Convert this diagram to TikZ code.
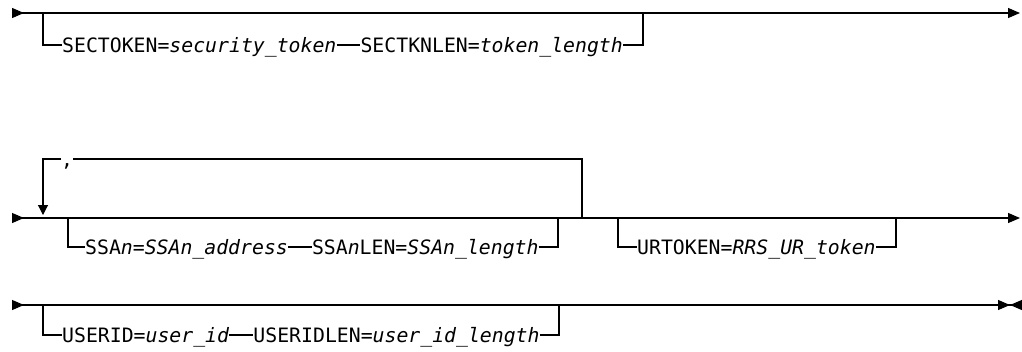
\documentclass[tikz,border=0pt]{standalone}
\usepackage{fontspec}
\setmonofont{DejaVu Sans Mono}
\usetikzlibrary{arrows.meta,positioning}
\tikzset{
  syn/line/.style={line width=1.1pt},
  syn/text/.style={
    font=\ttfamily\fontsize{19.8}{24}\selectfont,
    inner sep=0pt,
    text height=14.4pt,
    text depth=0pt,
    anchor=west
  },
  syn/start/.style={syn/line, {Triangle[reversed,length=12pt,width=10pt]}-{Triangle[length=12pt,width=10pt]}},
  syn/stop/.style={syn/line, {Triangle[reversed,length=12pt,width=10pt]}-{Triangle[length=12pt,width=10pt,sep=0pt]Triangle[reversed,length=12pt,width=10pt]}},
  syn/repeat/.style={syn/line, -{Triangle[length=10pt,width=10pt]}}
}
\begin{document}
\begin{tikzpicture}[x=1pt,y=-1pt]
  \useasboundingbox (0,0) rectangle (1022,351);

  % row 1: optional security token
  \coordinate (r1s) at (12,13);
  \coordinate (r1e) at (1020,13);
  \draw[syn/start] (r1s) -- (r1e);
  \node[syn/text] (sectok) at (62,45) {SECTOKEN=\textit{security\_token}};
  \node[syn/text, right=23.8pt of sectok] (sectkn) {SECTKNLEN=\textit{token\_length}};
  \coordinate (r1a) at (43,13);
  \coordinate (r1b) at (643,13);
  \draw[syn/line] (r1a) |- (sectok);
  \draw[syn/line] (sectok) -- (sectkn);
  \draw[syn/line] (sectkn) -| (r1b);

  % row 2: repeatable SSA list, optional URTOKEN
  \coordinate (r2s) at (12,218);
  \coordinate (r2e) at (1020,218);
  \draw[syn/start] (r2s) -- (r2e);
  \node[syn/text] (comma) at (61,159) {,};
  \coordinate (loopr) at (582,218);
  \coordinate (loopl) at (43,215);
  \draw[syn/line] (loopr) |- (comma);
  \draw[syn/repeat] (comma) -| (loopl);
  \node[syn/text] (ssa) at (85,247) {SSA\textit{n}=\textit{SSAn\_address}};
  \node[syn/text, right=23.8pt of ssa] (ssalen) {SSA\textit{n}LEN=\textit{SSAn\_length}};
  \coordinate (r2a) at (68,218);
  \coordinate (r2b) at (558,218);
  \draw[syn/line] (r2a) |- (ssa);
  \draw[syn/line] (ssa) -- (ssalen);
  \draw[syn/line] (ssalen) -| (r2b);
  \node[syn/text] (urtok) at (637,247) {URTOKEN=\textit{RRS\_UR\_token}};
  \coordinate (r2c) at (618,218);
  \coordinate (r2d) at (896,218);
  \draw[syn/line] (r2c) |- (urtok);
  \draw[syn/line] (urtok) -| (r2d);

  % row 3: optional user id, end of statement
  \coordinate (r3s) at (12,305);
  \coordinate (r3e) at (1022,305);
  \draw[syn/stop] (r3s) -- (r3e);
  \node[syn/text] (userid) at (62,335) {USERID=\textit{user\_id}};
  \node[syn/text, right=23.8pt of userid] (useridlen) {USERIDLEN=\textit{user\_id\_length}};
  \coordinate (r3a) at (43,305);
  \coordinate (r3b) at (559,305);
  \draw[syn/line] (r3a) |- (userid);
  \draw[syn/line] (userid) -- (useridlen);
  \draw[syn/line] (useridlen) -| (r3b);
\end{tikzpicture}
\end{document}
